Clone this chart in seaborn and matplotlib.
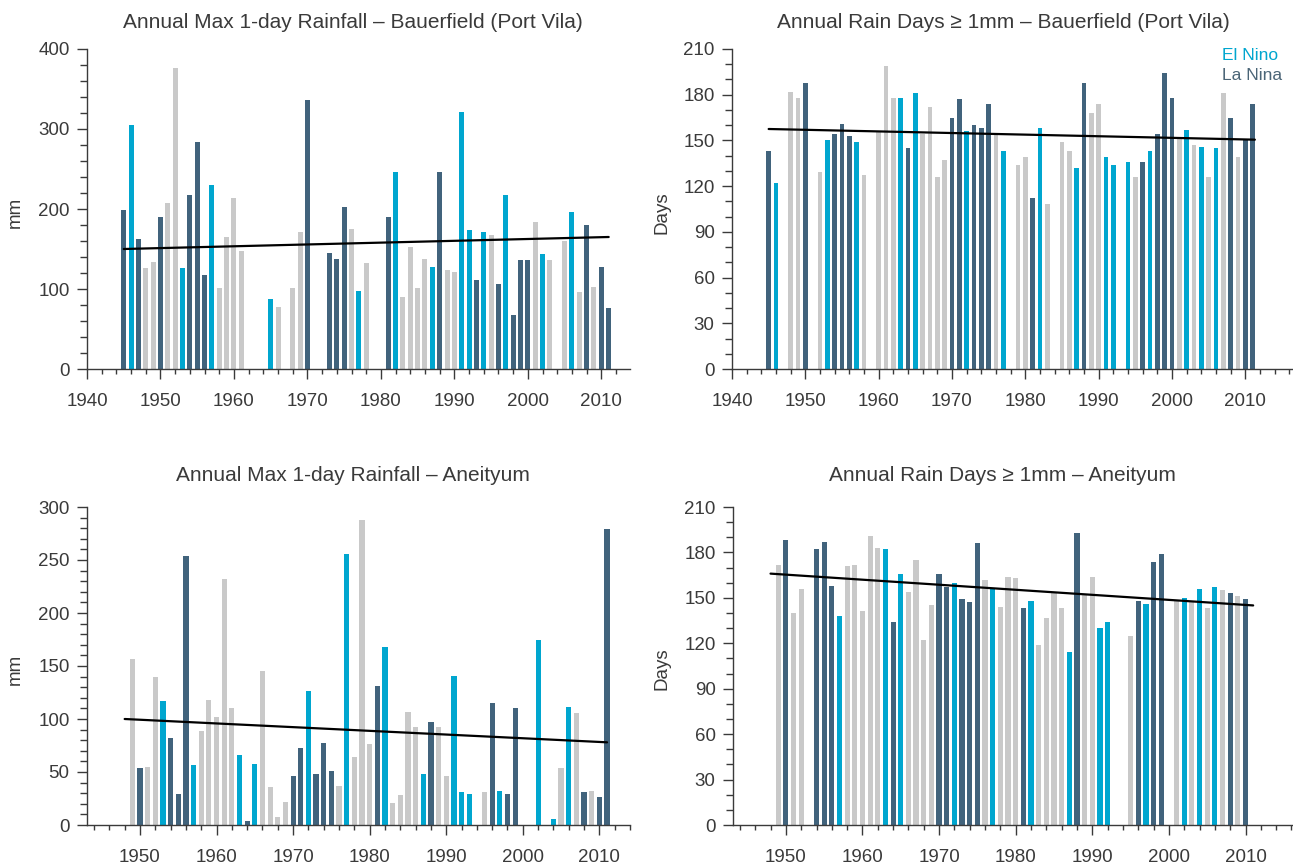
import pandas as pd
import matplotlib.pyplot as plt
import seaborn as sns
from matplotlib.ticker import MultipleLocator

# Phase codes: E = El Nino, L = La Nina, N = neutral
# Bauerfield (Port Vila) - annual max 1-day rainfall (mm)
bf_max_years = [1945, 1946, 1947, 1948, 1949, 1950, 1951, 1952, 1953, 1954, 1955, 1956, 1957,
                1958, 1959, 1960, 1961, 1965, 1966, 1968, 1969, 1970, 1973, 1974, 1975, 1976,
                1977, 1978, 1981, 1982, 1983, 1984, 1985, 1986, 1987, 1988, 1989, 1990, 1991,
                1992, 1993, 1994, 1995, 1996, 1997, 1998, 1999, 2000, 2001, 2002, 2003, 2005,
                2006, 2007, 2008, 2009, 2010, 2011]
bf_max_values = [199, 305, 162, 126, 134, 190, 208, 376, 126, 217, 284, 118, 230,
                 101, 165, 214, 147, 88, 77, 101, 171, 336, 145, 137, 203, 175,
                 98, 132, 190, 246, 90, 152, 101, 138, 128, 246, 124, 121, 321,
                 174, 111, 171, 168, 106, 217, 68, 136, 136, 184, 144, 136, 160,
                 196, 96, 180, 102, 128, 76]
bf_max_phase = list("LELNNLNNELLLENNNNENNNLLLLNENLENNNNELNNEELENLELLLNENNENLNLL")
bf_max_trend = [150, 165]
bf_max_trend_years = [1945, 2011]

# Bauerfield (Port Vila) - annual rain days >= 1mm
bf_days_years = [1945, 1946, 1948, 1949, 1950, 1952, 1953, 1954, 1955, 1956, 1957, 1958, 1960,
                 1961, 1962, 1963, 1964, 1965, 1966, 1967, 1968, 1969, 1970, 1971, 1972, 1973,
                 1974, 1975, 1976, 1977, 1979, 1980, 1981, 1982, 1983, 1985, 1986, 1987, 1988,
                 1989, 1990, 1991, 1992, 1994, 1995, 1996, 1997, 1998, 1999, 2000, 2001, 2002,
                 2003, 2004, 2005, 2006, 2007, 2008, 2009, 2010, 2011]
bf_days_values = [143, 122, 182, 178, 188, 129, 150, 154, 161, 153, 149, 127, 156,
                  199, 178, 178, 145, 181, 154, 172, 126, 137, 165, 177, 156, 160,
                  158, 174, 154, 143, 134, 139, 112, 158, 108, 149, 143, 132, 188,
                  168, 174, 139, 134, 136, 126, 136, 143, 154, 194, 178, 151, 157,
                  147, 146, 126, 145, 181, 165, 139, 151, 174]
bf_days_phase = list("LENNLNELLLENNNNELENNNNLLELLLNENNLENNNELNNEEENLELLLNENENENLNLL")
bf_days_trend = [157.5, 150.5]
bf_days_trend_years = [1945, 2011.3]

# Aneityum - annual max 1-day rainfall (mm)
an_max_years = [1949, 1950, 1951, 1952, 1953, 1954, 1955, 1956, 1957, 1958, 1959, 1960, 1961,
                1962, 1963, 1964, 1965, 1966, 1967, 1968, 1969, 1970, 1971, 1972, 1973, 1974,
                1975, 1976, 1977, 1978, 1979, 1980, 1981, 1982, 1983, 1984, 1985, 1986, 1987,
                1988, 1989, 1990, 1991, 1992, 1993, 1995, 1996, 1997, 1998, 1999, 2002, 2004,
                2005, 2006, 2007, 2008, 2009, 2010, 2011]
an_max_values = [157, 54, 55, 140, 117, 82, 29, 254, 57, 89, 118, 102, 232,
                 110, 66, 4, 58, 145, 36, 8, 22, 46, 73, 126, 48, 77,
                 51, 37, 256, 64, 288, 76, 131, 168, 21, 28, 107, 92, 48,
                 97, 92, 46, 141, 31, 29, 31, 115, 32, 29, 110, 175, 6,
                 54, 111, 106, 31, 32, 26, 279]
an_max_phase = list("NLNNELLLENNNNNELENNNNLLELLLNENNNLENNNNELNNEEENLELLEENENLNLL")
an_max_trend = [100, 78]
an_max_trend_years = [1948, 2011]

# Aneityum - annual rain days >= 1mm
an_days_years = [1949, 1950, 1951, 1952, 1954, 1955, 1956, 1957, 1958, 1959, 1960, 1961, 1962,
                 1963, 1964, 1965, 1966, 1967, 1968, 1969, 1970, 1971, 1972, 1973, 1974, 1975,
                 1976, 1977, 1978, 1979, 1980, 1981, 1982, 1983, 1984, 1985, 1986, 1987, 1988,
                 1989, 1990, 1991, 1992, 1995, 1996, 1997, 1998, 1999, 2001, 2002, 2003, 2004,
                 2005, 2006, 2007, 2008, 2009, 2010]
an_days_values = [172, 188, 140, 156, 182, 187, 158, 138, 171, 172, 141, 191, 183,
                  182, 134, 166, 154, 175, 122, 145, 166, 157, 160, 149, 147, 186,
                  162, 156, 144, 164, 163, 143, 148, 119, 137, 153, 143, 114, 193,
                  152, 164, 130, 134, 125, 148, 146, 174, 179, 148, 150, 148, 156,
                  143, 157, 155, 153, 151, 149]
an_days_phase = list("NLNNLLLENNNNNELENNNNLLELLLNENNNLENNNNELNNEENLELLNENENENLNL")
an_days_trend = [166, 145]
an_days_trend_years = [1948, 2011]

titles = ["Annual Max 1-day Rainfall \u2013 Bauerfield (Port Vila)",
          "Annual Rain Days \u2265 1mm \u2013 Bauerfield (Port Vila)",
          "Annual Max 1-day Rainfall \u2013 Aneityum",
          "Annual Rain Days \u2265 1mm \u2013 Aneityum"]
ylabels = ["mm", "Days", "mm", "Days"]

palette = {"E": "#00a6cf", "L": "#41637c", "N": "#c9c9c9"}
text_color = "#3a3a3a"

sns.set_style("ticks")
plt.rcParams['font.family'] = ['Liberation Sans', 'DejaVu Sans']

W, H = 1293, 867
fig = plt.figure(figsize=(W / 100, H / 100), dpi=100)

# axes boxes in pixels: left, right, top, bottom
boxes = [(87, 630, 49, 369), (732, 1293, 49, 369), (87, 630, 507, 825), (733, 1293, 507, 825)]
ylabel_px = [24, 670, 24, 670]
xlims = [(1940, 2013.9), (1940, 2016.5), (1943.08, 2014), (1943.1, 2016.2)]
ylims = [(0, 400), (0, 210), (0, 300), (0, 210)]
ymajor = [100, 30, 50, 30]
yminor = [20, 10, 10, 10]
title_x = [0.49, 0.483, 0.49, 0.482]
title_pad = [15, 15, 19, 19]

panels = [
    (bf_max_years, bf_max_values, bf_max_phase, bf_max_trend_years, bf_max_trend),
    (bf_days_years, bf_days_values, bf_days_phase, bf_days_trend_years, bf_days_trend),
    (an_max_years, an_max_values, an_max_phase, an_max_trend_years, an_max_trend),
    (an_days_years, an_days_values, an_days_phase, an_days_trend_years, an_days_trend),
]

axes = []
for i, (years, values, phase, tyears, tvals) in enumerate(panels):
    l, r, t, b = boxes[i]
    ax = fig.add_axes([l / W, (H - b) / H, (r - l) / W, (b - t) / H])
    axes.append(ax)
    df = pd.DataFrame({"year": years, "value": values, "phase": phase})

    sns.barplot(data=df, x="year", y="value", hue="phase", palette=palette,
                hue_order=["E", "L", "N"], native_scale=True, dodge=False,
                width=0.68, saturation=1, linewidth=0, errorbar=None,
                legend=False, ax=ax)
    sns.lineplot(x=tyears, y=tvals, color="black", linewidth=1.6, ax=ax)

    ax.set_xlim(*xlims[i])
    ax.set_ylim(*ylims[i])
    ax.xaxis.set_major_locator(MultipleLocator(10))
    ax.xaxis.set_minor_locator(MultipleLocator(2))
    ax.yaxis.set_major_locator(MultipleLocator(ymajor[i]))
    ax.yaxis.set_minor_locator(MultipleLocator(yminor[i]))
    ax.xaxis.set_major_formatter(plt.FuncFormatter(lambda v, p: f"{int(round(v))}"))

    ax.tick_params(axis="x", which="major", length=7.5, width=1.0, color=text_color,
                   labelsize=13.5, labelcolor=text_color, pad=10)
    ax.tick_params(axis="x", which="minor", length=3.5, width=1.0, color=text_color)
    ax.tick_params(axis="y", which="major", length=7.5, width=1.0, color=text_color,
                   labelsize=13.5, labelcolor=text_color, pad=5)
    ax.tick_params(axis="y", which="minor", length=5, width=1.0, color=text_color)

    sns.despine(ax=ax)
    for side in ("left", "bottom"):
        ax.spines[side].set_color(text_color)
        ax.spines[side].set_linewidth(1.0)

    ax.set_xlabel("")
    ax.set_ylabel(ylabels[i], fontsize=13.5, color=text_color)
    ax.yaxis.set_label_coords((ylabel_px[i] - l) / (r - l), 0.49)
    ax.set_title(titles[i], fontsize=15, color=text_color, x=title_x[i], pad=title_pad[i])
    ax.set_facecolor("white")

# legend text in the top right panel
axes[1].text(0.873, 0.981, "El Nino", transform=axes[1].transAxes, color=palette["E"],
             fontsize=12.5, ha="left", va="center")
axes[1].text(0.873, 0.916, "La Nina", transform=axes[1].transAxes, color="#4b6577",
             fontsize=12.5, ha="left", va="center")

fig.savefig("out.png", dpi=100, facecolor="white")
